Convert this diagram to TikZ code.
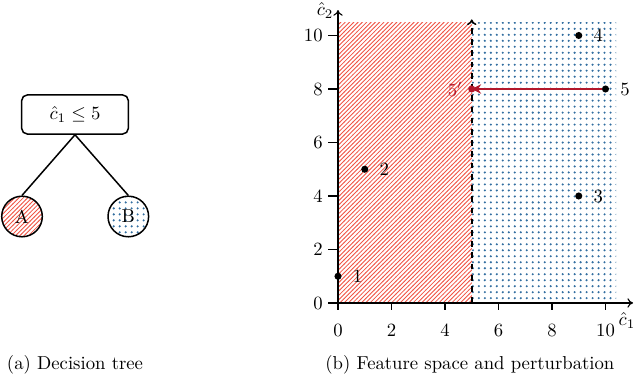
\documentclass[tikz,border=0pt]{standalone}
\usetikzlibrary{patterns,arrows.meta}
\definecolor{hatchred}{RGB}{240,85,70}
\definecolor{dotblue}{RGB}{50,110,160}
\definecolor{darkred}{RGB}{178,24,43}
\pgfdeclarepatternformonly{myhatch}{\pgfqpoint{-1pt}{-1pt}}{\pgfqpoint{3.3pt}{3.3pt}}{\pgfqpoint{2.3pt}{2.3pt}}{
  \pgfsetlinewidth{0.45pt}
  \pgfpathmoveto{\pgfqpoint{-0.1pt}{-0.1pt}}
  \pgfpathlineto{\pgfqpoint{2.4pt}{2.4pt}}
  \pgfusepath{stroke}}
\pgfdeclarepatternformonly{mydots}{\pgfqpoint{-1pt}{-1pt}}{\pgfqpoint{1pt}{1pt}}{\pgfqpoint{3.2pt}{3.2pt}}{
  \pgfpathcircle{\pgfqpoint{0pt}{0pt}}{0.62pt}
  \pgfusepath{fill}}
\begin{document}
\begin{tikzpicture}[x=14.3pt,y=14.3pt,
  leaf/.style={circle,draw,thick,minimum size=21.7pt,inner sep=0pt},
  pt/.style={circle,fill=black,inner sep=0pt,minimum size=3.8pt},
  ptlab/.style={anchor=west,inner sep=0pt},
  ytl/.style={anchor=east,inner sep=0pt},
  xtl/.style={anchor=north,inner sep=0pt},
  axisline/.style={semithick,-{To[length=3pt,width=5pt]}},
  tick/.style={semithick},
  redarea/.style={pattern=myhatch,pattern color=hatchred},
  bluearea/.style={pattern=mydots,pattern color=dotblue}]
\useasboundingbox (-12.636,-2.729) rectangle (11.29,11.327);
% ---- decision tree ----
\node[draw,thick,rounded corners=3pt,minimum width=57pt,minimum height=20.9pt] (root) at (-9.832,7.047) {$\hat{c}_1 \leq 5$};
\node[leaf,redarea] (A) at (-11.813,3.234) {A};
\node[leaf,bluearea] (B) at (-7.839,3.234) {B};
\draw[thick] (root.south) -- (A.north);
\draw[thick] (root.south) -- (B.north);
\node (capa) at (-9.832,-2.318) {(a) Decision tree};
% ---- feature space ----
\fill[redarea] (0,0) rectangle (5,10.48);
\fill[bluearea] (5,0) rectangle (10.4,10.48);
\coordinate (d0) at (5,0);
\coordinate (d1) at (5,10.6);
\draw[thick,dashed,-{To[length=3pt,width=5pt]}] (d0) -- (d1);
\coordinate (o) at (0,0);
\coordinate (xe) at (11.03,0);
\coordinate (ye) at (0,10.95);
\draw[axisline] (o) -- (xe);
\draw[axisline] (o) -- (ye);
\foreach \v in {0,2,4,6,8,10}{
  \draw[tick] (\v,0) -- (\v,-0.26);
  \node[xtl] at (\v,-0.78) {$\v$};
  \draw[tick] (0,\v) -- (-0.37,\v);
  \node[ytl] at (-0.56,\v) {$\v$};
}
\node (c1) at (10.8,-0.64) {$\hat{c}_1$};
\node (c2) at (-0.486,10.92) {$\hat{c}_2$};
% points
\node[pt] (p1) at (0,1) {};
\node[pt] (p2) at (1,5) {};
\node[pt] (p3) at (9,4) {};
\node[pt] (p4) at (9,10) {};
\node[pt] (p5) at (10,8) {};
\node[pt,fill=darkred] (p5p) at (5,8) {};
\foreach \i in {1,...,5}{
  \node[ptlab] at ([xshift=7.75pt]p\i.center) {$\i$};
}
\draw[darkred,very thick,-{Stealth[length=5pt,width=5pt]}] (p5) -- (p5p.center);
\node[anchor=east,inner sep=0pt,text=darkred] (l5p) at ([xshift=-4.8pt]p5p.center) {$5'$};
\node (capb) at (4.93,-2.318) {(b) Feature space and perturbation};
\end{tikzpicture}
\end{document}
